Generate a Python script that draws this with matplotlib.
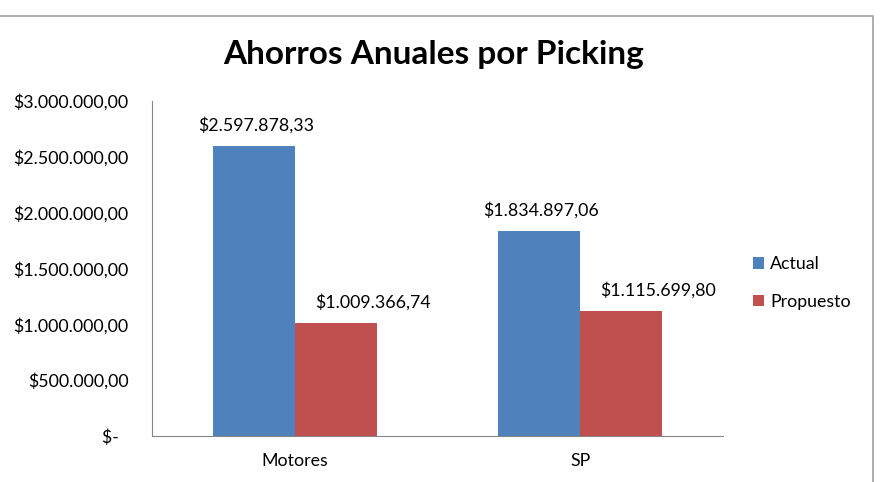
import matplotlib.pyplot as plt
from matplotlib.patches import Rectangle
from matplotlib.ticker import FuncFormatter

plt.rcParams['font.family'] = ['Lato', 'DejaVu Sans']

categorias = ['Motores', 'SP']
actual = [2597878.33, 1834897.06]
propuesto = [1009366.74, 1115699.80]
series = ['Actual', 'Propuesto']
colores = ['#4F81BD', '#C0504D']


def pesos(v):
    s = '{:,.2f}'.format(v)
    s = s.replace(',', 'X').replace('.', ',').replace('X', '.')
    return '$' + s


def tick_fmt(v, pos):
    if v == 0:
        return '$-  '
    return pesos(v)


fs = 12.8
fig = plt.figure(figsize=(8.8, 4.82), dpi=100)
ax = fig.add_axes([0.1727, 0.0954, 0.6489, 0.6951])

x = range(len(categorias))
w = 0.287
b1 = ax.bar([i - w / 2 for i in x], actual, w, color=colores[0], label=series[0])
b2 = ax.bar([i + w / 2 for i in x], propuesto, w, color=colores[1], label=series[1])

# the red labels sit a bit to the right in the original
for bars, vals, dx in ((b1, actual, 2), (b2, propuesto, 37)):
    for bar, v in zip(bars, vals):
        ax.annotate(pesos(v), (bar.get_x() + bar.get_width() / 2, v),
                    xytext=(dx, 21), textcoords='offset pixels',
                    ha='center', va='center', fontsize=fs)

ax.set_xlim(-0.5, 1.5)
ax.set_ylim(0, 3000000)
ax.set_yticks([0, 500000, 1000000, 1500000, 2000000, 2500000, 3000000])
ax.yaxis.set_major_formatter(FuncFormatter(tick_fmt))
ax.set_xticks(list(x))
ax.set_xticklabels(categorias)
ax.tick_params(length=0, labelsize=fs)
ax.tick_params(axis='x', pad=12)
ax.tick_params(axis='y', pad=17)

for s in ('top', 'right'):
    ax.spines[s].set_visible(False)
for s in ('left', 'bottom'):
    ax.spines[s].set_color('#868686')

fig.text(0.493, 0.886, 'Ahorros Anuales por Picking', ha='center', va='center',
         fontsize=24, fontweight='bold')

ax.legend(loc='center left', bbox_to_anchor=(0.856, 0.413), bbox_transform=fig.transFigure,
          frameon=False, fontsize=fs, handlelength=0.6, handleheight=0.6,
          handletextpad=0.35, labelspacing=1.2, borderpad=0, borderaxespad=0)

fig.patches.append(Rectangle((-0.01, -0.01), 0.992 + 0.01, 0.967 + 0.01,
                             transform=fig.transFigure, fill=False,
                             edgecolor='#A0A0A0', linewidth=1.2))

fig.savefig('out.png')
